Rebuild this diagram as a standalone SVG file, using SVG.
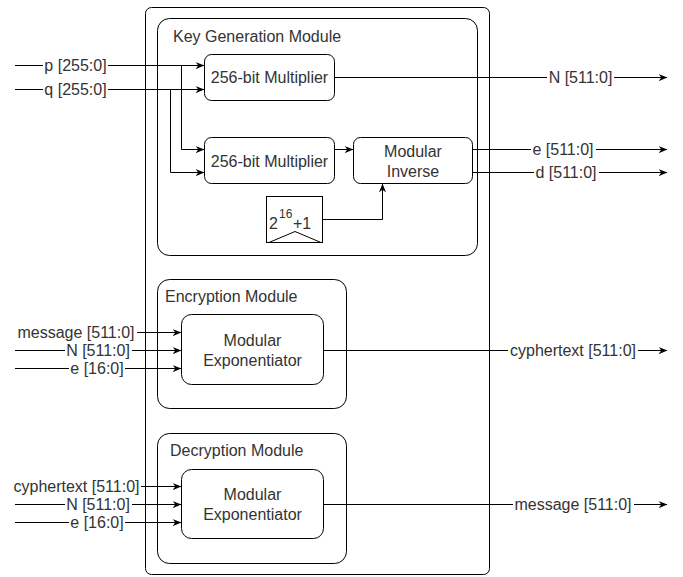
<svg xmlns="http://www.w3.org/2000/svg" width="683" height="577" viewBox="0 0 683 577">
<defs>
<marker id="arr" viewBox="0 0 10 8" markerWidth="9" markerHeight="7" refX="9.5" refY="4" orient="auto" markerUnits="userSpaceOnUse">
<path d="M0,0 L10,4 L0,8 L3,4 z" fill="#000"/>
</marker>
<style>
.box{fill:#fff;stroke:#000;stroke-width:1}
.frame{fill:none;stroke:#000;stroke-width:1}
.t{font-family:"Liberation Sans",Arial,sans-serif;font-size:16px;fill:#333}
.m{text-anchor:middle}
.w{fill:#fff;stroke:none}
.e{fill:none;stroke:#000;stroke-width:1}
.a{marker-end:url(#arr)}
</style>
</defs>
<rect width="683" height="577" fill="#fff"/>
<g id="top">
<rect class="frame" x="145.5" y="7.5" width="344" height="567" rx="6"/>
</g>
<g id="keygen">
<rect class="frame" x="157.5" y="18.5" width="320" height="237" rx="12"/>
<text class="t" x="173" y="41.5">Key Generation Module</text>
</g>
<g id="encmod">
<rect class="frame" x="157.5" y="279.5" width="189" height="129" rx="12"/>
<text class="t" x="165" y="302">Encryption Module</text>
</g>
<g id="decmod">
<rect class="frame" x="157.5" y="433.5" width="189" height="130" rx="12"/>
<text class="t" x="170" y="456">Decryption Module</text>
</g>
<g id="connectors">
<path class="e a" d="M15,65.5 H204"/>
<path class="e a" d="M15,89.5 H204"/>
<path class="e a" d="M181.5,65.5 V149.5 H204"/>
<path class="e a" d="M170.5,89.5 V172.5 H204"/>
<path class="e a" d="M335,77.5 H667"/>
<path class="e a" d="M335,149.5 H353"/>
<path class="e a" d="M473,149.5 H667"/>
<path class="e a" d="M473,172.5 H667"/>
<path class="e a" d="M323,219.5 H382.5 V184"/>
<path class="e a" d="M137,332.5 H181"/>
<path class="e a" d="M15,350.5 H181"/>
<path class="e a" d="M15,368.5 H181"/>
<path class="e a" d="M323,350.5 H667"/>
<path class="e a" d="M141,486.5 H181"/>
<path class="e a" d="M15,504.5 H181"/>
<path class="e a" d="M15,522.5 H181"/>
<path class="e a" d="M323,504.5 H667"/>
<g id="labels">
<rect class="w" x="43" y="58" width="65" height="15"/>
<text class="t m" x="75.5" y="71">p [255:0]</text>
<rect class="w" x="43" y="82" width="65" height="15"/>
<text class="t m" x="75.5" y="95">q [255:0]</text>
<rect class="w" x="547" y="70" width="67" height="15"/>
<text class="t m" x="580.5" y="83">N [511:0]</text>
<rect class="w" x="531" y="142" width="65" height="15"/>
<text class="t m" x="563" y="155">e [511:0]</text>
<rect class="w" x="534" y="165" width="65" height="15"/>
<text class="t m" x="566" y="178">d [511:0]</text>
<text class="t m" x="76" y="338">message [511:0]</text>
<rect class="w" x="65" y="343" width="67" height="15"/>
<text class="t m" x="98" y="356">N [511:0]</text>
<rect class="w" x="69" y="361" width="56" height="15"/>
<text class="t m" x="97" y="374">e [16:0]</text>
<rect class="w" x="508" y="343" width="130" height="15"/>
<text class="t m" x="573" y="356">cyphertext [511:0]</text>
<text class="t m" x="76.5" y="492">cyphertext [511:0]</text>
<rect class="w" x="65" y="497" width="67" height="15"/>
<text class="t m" x="98" y="510">N [511:0]</text>
<rect class="w" x="69" y="515" width="56" height="15"/>
<text class="t m" x="97" y="528">e [16:0]</text>
<rect class="w" x="513" y="497" width="121" height="15"/>
<text class="t m" x="573" y="510">message [511:0]</text>
</g>
</g>
<g id="mult1">
<rect class="box" x="204.5" y="54.5" width="130" height="46" rx="7"/>
<text class="t m" x="269.5" y="83">256-bit Multiplier</text>
</g>
<g id="mult2">
<rect class="box" x="204.5" y="137.5" width="130" height="46" rx="7"/>
<text class="t m" x="269.5" y="166.5">256-bit Multiplier</text>
</g>
<g id="modinv">
<rect class="box" x="353.5" y="137.5" width="119" height="46" rx="7"/>
<text class="t m" x="413" y="156.5">Modular</text>
<text class="t m" x="413" y="176.5">Inverse</text>
</g>
<g id="const">
<rect class="box" x="266.5" y="196.5" width="56" height="46"/>
<polyline class="e" points="269,242.5 295,231.5 321,242.5"/>
<text class="t" x="269" y="229">2</text>
<text class="t" x="279" y="218" style="font-size:12px">16</text>
<text class="t" x="293" y="229">+1</text>
</g>
<g id="encexp">
<rect class="box" x="181.5" y="314.5" width="142" height="70" rx="10"/>
<text class="t m" x="252.5" y="346">Modular</text>
<text class="t m" x="252.5" y="366">Exponentiator</text>
</g>
<g id="decexp">
<rect class="box" x="181.5" y="469.5" width="142" height="69" rx="10"/>
<text class="t m" x="252.5" y="500">Modular</text>
<text class="t m" x="252.5" y="520">Exponentiator</text>
</g>
</svg>
